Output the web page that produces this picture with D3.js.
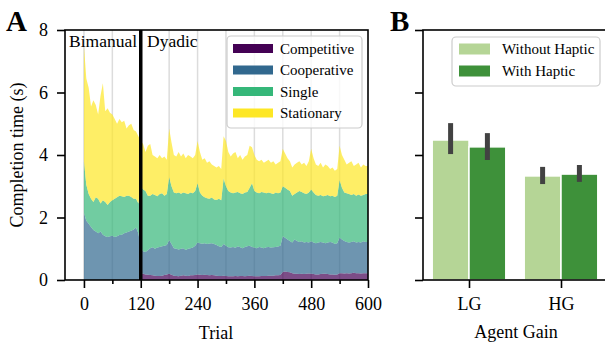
<!DOCTYPE html>
<html lang="en">
<head>
  <meta charset="UTF-8">
  <title>Completion time - stacked trials and agent gain</title>
  <script src="https://d3js.org/d3.v7.min.js"></script>
  <style>
    body {
      margin: 0;
      background: white;
    }
    svg {
      display: block;
      font-family: "Liberation Serif", "DejaVu Serif", serif;
    }
    .axis text {
      font-family: "Liberation Serif", "DejaVu Serif", serif;
      font-size: 18px;
      fill: black;
    }
    .axis line {
      stroke: black;
      stroke-width: 1.6px;
    }
  </style>
</head>
<body>
  <div id="chart"></div>

  <script>
    // Panel A: completion time per trial (every 5th trial), split by condition
    const trials = d3.range(0, 601, 5);
    const competitive = [
      0, 0, 0, 0, 0, 0, 0, 0, 0, 0, 0, 0,
      0, 0, 0, 0, 0, 0, 0, 0, 0, 0, 0, 0,
      .22, .20, .18, .17, .16, .15, .14, .13, .13, .14, .16, .18,
      .20, .17, .14, .13, .12, .14, .15, .14, .13, .15, .15, .16,
      .18, .17, .16, .17, .16, .15, .16, .15, .14, .13, .13, .14,
      .13, .12, .12, .12, .13, .12, .13, .13, .12, .13, .14, .13,
      .12, .12, .12, .13, .13, .13, .14, .14, .14, .15, .15, .16,
      .26, .27, .26, .25, .22, .20, .20, .19, .20, .19, .20, .21,
      .20, .19, .18, .18, .19, .20, .20, .19, .18, .18, .17, .18,
      .22, .22, .21, .22, .21, .22, .23, .22, .22, .21, .22, .22,
      .22
    ];
    const cooperative = [
      2.15, 1.90, 1.80, 1.70, 1.60, 1.55, 1.50, 1.55, 1.45, 1.40, 1.38, 1.40,
      1.42, 1.38, 1.40, 1.44, 1.45, 1.50, 1.52, 1.55, 1.58, 1.62, 1.68, 1.50,
      .83, .72, .72, .78, .86, .90, .86, .91, .93, .94, .94, .94,
      1.08, .98, .88, .87, .86, .86, .87, .82, .87, .87, .89, .94,
      1.02, 1.01, 1.00, 1.01, .99, 1.02, 1.02, 1.00, .98, .95, .93, 1.01,
      .97, .93, .92, .94, .90, .96, .92, .89, .94, .95, .96, .93,
      .92, .90, .94, .91, .89, .92, .92, .90, .91, .91, .92, .94,
      1.14, 1.08, 1.04, 1.00, .98, 1.10, 1.05, 1.03, 1.04, 1.01, 1.02, .99,
      1.04, 1.01, 1.00, 1.02, 1.03, 1.00, .98, 1.01, 1.04, 1.02, .98, 1.00,
      1.14, 1.08, 1.04, 1.00, .99, 1.00, 1.01, .98, 1.00, .99, 1.02, 1.00,
      1.00
    ];
    const single = [
      1.65, 1.15, .95, .90, .90, 1.10, 1.10, .90, 1.10, 1.10, 1.02, 1.10,
      1.13, 1.22, 1.25, 1.26, 1.23, 1.16, 1.18, 1.15, 1.08, .98, .92, .95,
      1.95, 1.98, 1.95, 1.75, 1.68, 1.70, 1.72, 1.64, 1.69, 1.70, 1.60, 1.63,
      2.02, 1.85, 1.78, 1.78, 1.82, 1.76, 1.78, 1.82, 1.75, 1.78, 1.74, 1.75,
      1.90, 1.62, 1.54, 1.47, 1.47, 1.43, 1.46, 1.43, 1.44, 1.52, 1.49, 2.10,
      1.90, 1.80, 1.76, 1.72, 1.77, 1.74, 1.73, 1.73, 1.74, 1.74, 1.85, 2.04,
      1.81, 1.78, 1.72, 1.78, 1.78, 1.73, 1.74, 1.74, 1.70, 1.74, 1.71, 1.70,
      1.60, 1.60, 1.60, 1.60, 1.50, 1.45, 1.55, 1.63, 1.58, 1.58, 1.53, 1.60,
      1.66, 1.60, 1.54, 1.50, 1.50, 1.48, 1.52, 1.52, 1.46, 1.50, 1.51, 1.52,
      1.84, 1.65, 1.55, 1.56, 1.55, 1.50, 1.51, 1.50, 1.52, 1.50, 1.48, 1.53,
      1.53
    ];
    const stationary = [
      3.70, 3.40, 3.40, 2.95, 3.25, 2.95, 2.70, 3.45, 3.75, 2.90, 3.10, 2.85,
      2.75, 2.55, 2.35, 2.45, 2.37, 2.44, 2.15, 2.25, 2.34, 2.20, 2.15, 2.15,
      1.45, 1.45, 1.25, 1.60, 1.65, 1.25, 1.23, 1.22, 1.25, 1.12, 1.25, 1.10,
      1.55, 1.40, 1.20, 1.17, 1.30, 1.19, 1.25, 1.12, 1.25, 1.15, 1.12, 1.15,
      1.35, 1.30, 1.15, 1.25, 1.13, 1.20, 1.06, 1.07, 1.04, 1.05, 1.00, 1.35,
      1.45, 1.25, 1.15, 1.27, 1.30, 1.08, 1.22, 1.10, 1.15, 1.18, 1.35, 1.15,
      1.15, 1.05, 1.02, 1.03, .95, 1.02, 1.05, .97, 1.05, .90, .97, 1.00,
      1.20, 1.10, 1.00, .95, .90, .95, .95, .95, .88, .97, .90, 1.00,
      1.30, 1.10, .98, .95, 1.03, .92, 1.00, .93, .87, .90, .84, .85,
      1.10, 1.05, 1.05, .92, 1.00, 1.08, .90, 1.00, 1.01, .90, .98, .90,
      .90
    ];
    const conditions = ["Competitive", "Cooperative", "Single", "Stationary"];
    const condColors = ["#440154", "#31688e", "#35b779", "#fde725"];
    const trialTicks = [0, 120, 240, 360, 480, 600];
    const trialMinor = [60, 180, 300, 420, 540];
    const blockLines = [0, 60, 180, 240, 300, 360, 420, 480, 540];
    const yTicks = [0, 2, 4, 6, 8];

    // Panel B: mean completion time by agent gain
    const gains = ["LG", "HG"];
    const withoutHaptic = [4.48, 3.33];
    const withoutLo = [4.03, 3.07];
    const withoutHi = [5.02, 3.62];
    const withHaptic = [4.26, 3.39];
    const withLo = [3.84, 3.14];
    const withHi = [4.70, 3.68];
    const hapticLabels = ["Without Haptic", "With Haptic"];
    const hapticColors = ["#b5d596", "#3e913a"];

    const width = 605, height = 348;
    const svg = d3.select("#chart").append("svg")
      .attr("width", width)
      .attr("height", height);

    // ---------- panel A ----------
    const xA = d3.scaleLinear().domain([-40, 600]).range([65, 368]);
    const y = d3.scaleLinear().domain([0, 8]).range([280, 30]);

    const rows = trials.map((t, i) => ({
      trial: t,
      Competitive: competitive[i],
      Cooperative: cooperative[i],
      Single: single[i],
      Stationary: stationary[i]
    }));
    const stacked = d3.stack().keys(conditions)(rows);

    svg.append("g")
      .selectAll("line")
      .data(blockLines)
      .join("line")
        .attr("x1", d => xA(d)).attr("x2", d => xA(d))
        .attr("y1", y(8)).attr("y2", y(0))
        .attr("stroke", "#dcdcdc")
        .attr("stroke-width", 1.5);

    const area = d3.area()
      .x(d => xA(d.data.trial))
      .y0(d => y(d[0]))
      .y1(d => y(d[1]));

    svg.append("g")
      .selectAll("path")
      .data(stacked)
      .join("path")
        .attr("d", area)
        .attr("fill", (d, i) => condColors[i])
        .attr("fill-opacity", 0.7);

    // boundary between bimanual and dyadic blocks
    svg.append("line")
      .attr("x1", xA(120)).attr("x2", xA(120))
      .attr("y1", y(8)).attr("y2", y(0))
      .attr("stroke", "black")
      .attr("stroke-width", 3.5);

    svg.append("text").attr("x", 69).attr("y", 47)
      .attr("font-size", 17.5).text("Bimanual");
    svg.append("text").attr("x", 147).attr("y", 47)
      .attr("font-size", 17.5).text("Dyadic");

    svg.append("g")
      .attr("class", "axis")
      .attr("transform", "translate(0,280)")
      .call(d3.axisBottom(xA).tickValues(trialTicks).tickSize(8).tickPadding(9).tickSizeOuter(0))
      .call(g => g.select(".domain").remove());
    svg.append("g")
      .attr("class", "axis")
      .attr("transform", "translate(0,280)")
      .call(d3.axisBottom(xA).tickValues(trialMinor).tickSize(4).tickFormat("").tickSizeOuter(0))
      .call(g => g.select(".domain").remove());
    svg.append("g")
      .attr("class", "axis")
      .attr("transform", "translate(65,0)")
      .call(d3.axisLeft(y).tickValues(yTicks).tickSize(8).tickPadding(9).tickSizeOuter(0))
      .call(g => g.select(".domain").remove());

    svg.append("rect")
      .attr("x", 65).attr("y", 30)
      .attr("width", 368 - 65).attr("height", 250)
      .attr("fill", "none").attr("stroke", "black").attr("stroke-width", 1.6);

    // legend A
    const legA = svg.append("g");
    legA.append("rect")
      .attr("x", 227).attr("y", 36).attr("width", 135).attr("height", 92).attr("rx", 4)
      .attr("fill", "white").attr("fill-opacity", 0.8)
      .attr("stroke", "#cccccc").attr("stroke-width", 1.2);
    legA.selectAll("g.item")
      .data(conditions)
      .join("g")
        .attr("class", "item")
        .attr("transform", (d, i) => `translate(0,${48.5 + i * 21.5})`)
        .each(function(d, i) {
          const g = d3.select(this);
          g.append("rect").attr("x", 233).attr("y", -4.5).attr("width", 40).attr("height", 9)
            .attr("fill", condColors[i]);
          g.append("text").attr("x", 280).attr("y", 5).attr("font-size", 15).text(d);
        });

    // panel labels and axis titles
    svg.append("text").attr("x", 6).attr("y", 31)
      .attr("font-size", 29).attr("font-weight", "bold").text("A");
    svg.append("text").attr("x", 390).attr("y", 31)
      .attr("font-size", 29).attr("font-weight", "bold").text("B");
    svg.append("text")
      .attr("transform", "translate(23,155) rotate(-90)")
      .attr("text-anchor", "middle").attr("font-size", 18)
      .text("Completion time (s)");
    svg.append("text").attr("x", 216).attr("y", 339)
      .attr("text-anchor", "middle").attr("font-size", 18).text("Trial");

    // ---------- panel B ----------
    const xB = d3.scaleLinear().domain([-0.5, 1.5]).range([423, 607]);
    const unit = xB(1) - xB(0);
    const barSets = [
      { vals: withoutHaptic, lo: withoutLo, hi: withoutHi, off: -0.2 },
      { vals: withHaptic, lo: withLo, hi: withHi, off: 0.2 }
    ];

    barSets.forEach((s, k) => {
      svg.append("g")
        .selectAll("rect")
        .data(gains)
        .join("rect")
          .attr("x", (d, i) => xB(i + s.off) - unit * 0.2)
          .attr("width", unit * 0.4)
          .attr("y", (d, i) => y(s.vals[i]))
          .attr("height", (d, i) => y(0) - y(s.vals[i]))
          .attr("fill", hapticColors[k])
          .attr("stroke", "white")
          .attr("stroke-width", 1.5);
      svg.append("g")
        .selectAll("line")
        .data(gains)
        .join("line")
          .attr("x1", (d, i) => xB(i + s.off))
          .attr("x2", (d, i) => xB(i + s.off))
          .attr("y1", (d, i) => y(s.lo[i]))
          .attr("y2", (d, i) => y(s.hi[i]))
          .attr("stroke", "#424242")
          .attr("stroke-width", 5);
    });

    svg.append("g")
      .attr("class", "axis")
      .attr("transform", "translate(0,280)")
      .call(d3.axisBottom(xB).tickValues([0, 1]).tickFormat(i => gains[i])
        .tickSize(8).tickPadding(9).tickSizeOuter(0))
      .call(g => g.select(".domain").remove());
    svg.append("g")
      .attr("class", "axis")
      .attr("transform", "translate(423,0)")
      .call(d3.axisLeft(y).tickValues(yTicks).tickSize(8).tickFormat("").tickSizeOuter(0))
      .call(g => g.select(".domain").remove());

    svg.append("rect")
      .attr("x", 423).attr("y", 30)
      .attr("width", 607 - 423).attr("height", 250)
      .attr("fill", "none").attr("stroke", "black").attr("stroke-width", 1.6);

    svg.append("text").attr("x", 516).attr("y", 338)
      .attr("text-anchor", "middle").attr("font-size", 18).text("Agent Gain");

    // legend B
    const legB = svg.append("g");
    legB.append("rect")
      .attr("x", 452).attr("y", 37).attr("width", 148).attr("height", 49).attr("rx", 4)
      .attr("fill", "white").attr("fill-opacity", 0.8)
      .attr("stroke", "#cccccc").attr("stroke-width", 1.2);
    legB.selectAll("g.item")
      .data(hapticLabels)
      .join("g")
        .attr("class", "item")
        .attr("transform", (d, i) => `translate(0,${49 + i * 22})`)
        .each(function(d, i) {
          const g = d3.select(this);
          g.append("rect").attr("x", 459).attr("y", -5.5).attr("width", 31).attr("height", 11)
            .attr("fill", hapticColors[i]);
          g.append("text").attr("x", 502).attr("y", 5).attr("font-size", 15).text(d);
        });
  </script>
</body>
</html>
